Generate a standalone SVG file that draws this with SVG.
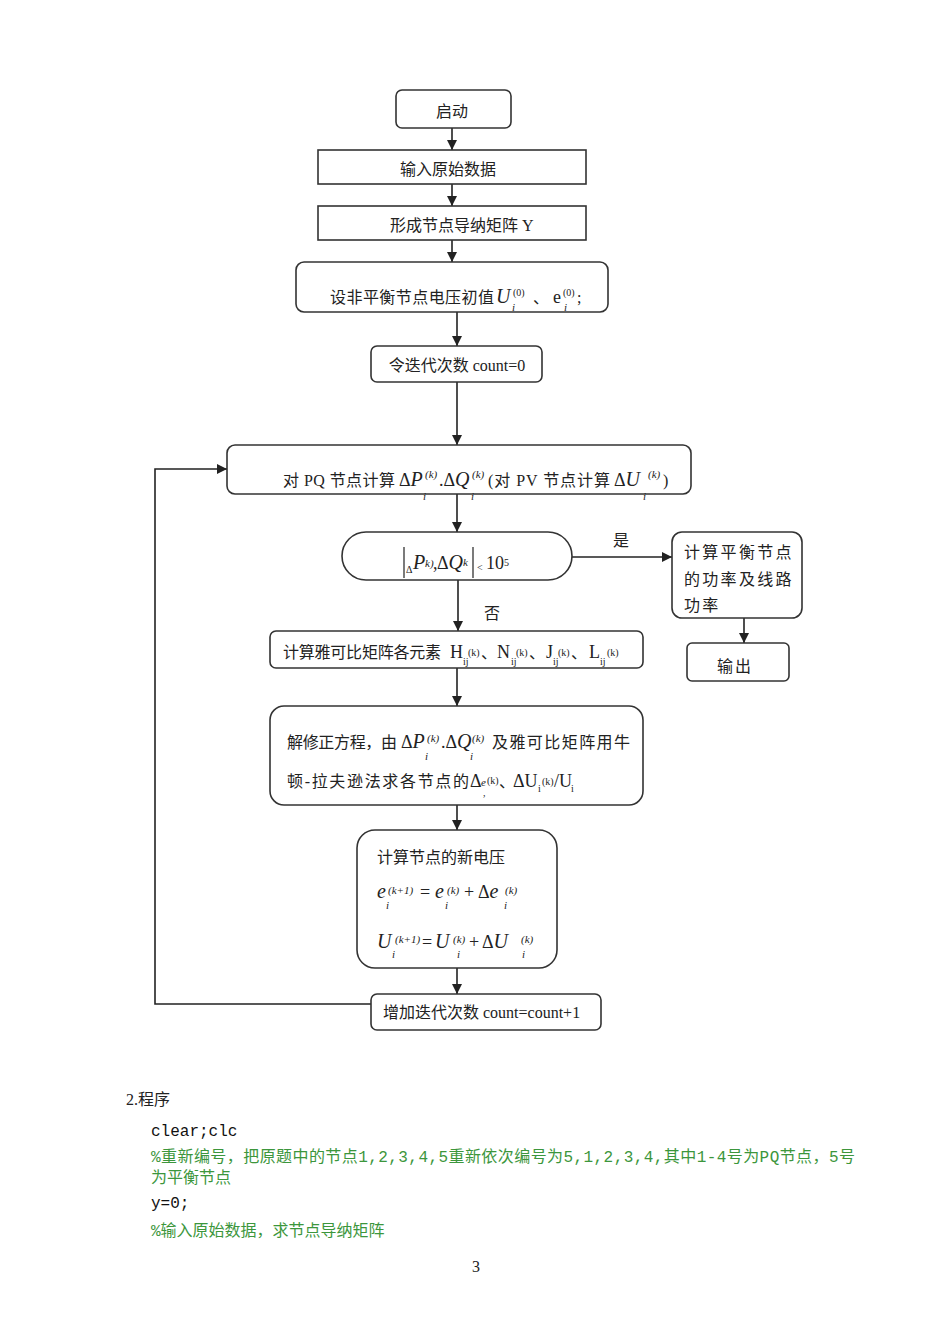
<svg xmlns="http://www.w3.org/2000/svg" width="950" height="1344" viewBox="0 0 950 1344">
<defs>
<marker id="ah" markerWidth="10" markerHeight="11" refX="10" refY="5.5" orient="auto" markerUnits="userSpaceOnUse">
<path d="M0,0.5 L10,5.5 L0,10.5 Z" fill="#222"/>
</marker>
<style>
.bx{fill:#fff;stroke:#333;stroke-width:1.6}
.ln{fill:none;stroke:#222;stroke-width:1.6}
.t{font-family:"Liberation Serif","Noto Sans CJK SC",serif;font-size:16px;fill:#222}
.m{font-family:"Liberation Serif",serif;font-style:italic;font-size:20px;fill:#222}
.r{font-family:"Liberation Serif",serif;font-size:18px;fill:#222}
.s{font-family:"Liberation Serif",serif;font-size:10px;fill:#222}
.si{font-family:"Liberation Serif",serif;font-style:italic;font-size:11px;fill:#222}
.code{font-family:"Liberation Mono","Noto Sans CJK SC",monospace;font-size:16px;fill:#111}
.cm{font-family:"Liberation Mono","Noto Sans CJK SC",monospace;font-size:16px;fill:#3c963c}
</style>
</defs>
<rect width="950" height="1344" fill="#fff"/>

<g id="connectors">
<line class="ln" x1="452" y1="128" x2="452" y2="150" marker-end="url(#ah)"/>
<line class="ln" x1="452" y1="184" x2="452" y2="206" marker-end="url(#ah)"/>
<line class="ln" x1="452" y1="240" x2="452" y2="262" marker-end="url(#ah)"/>
<line class="ln" x1="457" y1="312" x2="457" y2="346" marker-end="url(#ah)"/>
<line class="ln" x1="457" y1="382" x2="457" y2="445" marker-end="url(#ah)"/>
<line class="ln" x1="457" y1="494" x2="457" y2="532" marker-end="url(#ah)"/>
<line class="ln" x1="572" y1="557" x2="672" y2="557" marker-end="url(#ah)"/>
<line class="ln" x1="744" y1="618" x2="744" y2="643" marker-end="url(#ah)"/>
<line class="ln" x1="458" y1="580" x2="458" y2="631" marker-end="url(#ah)"/>
<line class="ln" x1="457" y1="668" x2="457" y2="706" marker-end="url(#ah)"/>
<line class="ln" x1="457" y1="805" x2="457" y2="830" marker-end="url(#ah)"/>
<line class="ln" x1="457" y1="968" x2="457" y2="994" marker-end="url(#ah)"/>
<polyline class="ln" points="371,1004 155,1004 155,469 227,469" marker-end="url(#ah)"/>
<text class="t" x="613" y="546">是</text>
<text class="t" x="484" y="619">否</text>
</g>

<g id="start">
<rect class="bx" x="396" y="90" width="115" height="38" rx="6"/>
<text class="t" x="452" y="117" text-anchor="middle">启动</text>
</g>

<g id="input">
<rect class="bx" x="318" y="150" width="268" height="34"/>
<text class="t" x="448" y="175" text-anchor="middle">输入原始数据</text>
</g>

<g id="admittance">
<rect class="bx" x="318" y="206" width="268" height="34"/>
<text class="t" x="390" y="231">形成节点导纳矩阵 Y</text>
</g>

<g id="init">
<rect class="bx" x="296" y="262" width="312" height="50" rx="8"/>
<text class="t" x="330" y="303" textLength="164" lengthAdjust="spacing">设非平衡节点电压初值</text>
<text class="m" x="496" y="303">U</text>
<text class="s" x="513" y="296">(0)</text>
<text class="si" x="512" y="311">i</text>
<text class="t" x="533" y="303">、</text>
<text class="r" x="553" y="303" font-size="17">e</text>
<text class="s" x="563" y="296">(0)</text>
<text class="si" x="564" y="311">i</text>
<text class="t" x="577" y="303">;</text>
</g>

<g id="count0">
<rect class="bx" x="371" y="346" width="171" height="36" rx="6"/>
<text class="t" x="457" y="371" text-anchor="middle">令迭代次数 count=0</text>
</g>

<g id="mismatch">
<rect class="bx" x="227" y="445" width="464" height="49" rx="8"/>
<text class="t" x="283" y="486" textLength="112" lengthAdjust="spacing">对 PQ 节点计算</text>
<text class="r" x="399" y="486">Δ<tspan class="m" font-size="19">P</tspan></text>
<text class="si" x="425" y="478">(k)</text>
<text class="si" x="423" y="500">i</text>
<text class="r" x="439" y="486">.Δ<tspan class="m" font-size="19">Q</tspan></text>
<text class="si" x="472" y="478">(k)</text>
<text class="si" x="471" y="500">i</text>
<text class="t" x="488" y="486" textLength="122" lengthAdjust="spacing">(对 PV 节点计算</text>
<text class="r" x="614" y="486">Δ<tspan class="m" font-size="19">U</tspan></text>
<text class="si" x="648" y="478">(k)</text>
<text class="si" x="643" y="500">i</text>
<text class="t" x="663" y="486">)</text>
</g>

<g id="converge">
<rect class="bx" x="342" y="532" width="230" height="48" rx="24"/>
<line x1="404" y1="547" x2="404" y2="578" stroke="#222" stroke-width="1.2"/>
<line x1="473" y1="547" x2="473" y2="578" stroke="#222" stroke-width="1.2"/>
<text class="s" x="406" y="573" font-size="11">Δ</text>
<text class="m" x="413" y="569" font-size="19">P</text>
<text class="si" x="425" y="567" font-size="9">k)</text>
<text class="r" x="433" y="569">,</text>
<text class="r" x="437" y="569" font-size="17">Δ<tspan class="m" font-size="18">Q</tspan></text>
<text class="si" x="463" y="566" font-size="7">k</text>
<text class="s" x="477" y="571" font-size="13">&lt;</text>
<text class="r" x="486" y="569" font-size="19">10</text>
<text class="s" x="504" y="566" font-size="8">5</text>
</g>

<g id="balance">
<rect class="bx" x="672" y="532" width="130" height="86" rx="10"/>
<text class="t" x="684" y="558" letter-spacing="2.3">计算平衡节点</text>
<text class="t" x="684" y="585" letter-spacing="2.3">的功率及线路</text>
<text class="t" x="684" y="611" letter-spacing="2.3">功率</text>
</g>

<g id="output">
<rect class="bx" x="687" y="643" width="102" height="38" rx="5"/>
<text class="t" x="735" y="672" text-anchor="middle" letter-spacing="2">输出</text>
</g>

<g id="jacobian">
<rect class="bx" x="270" y="631" width="373" height="37" rx="6"/>
<text class="t" x="283" y="658" textLength="158" lengthAdjust="spacing">计算雅可比矩阵各元素</text>
<text class="r" x="450" y="658" font-size="17">H</text>
<text class="s" x="463" y="665">ij</text>
<text class="s" x="468" y="656">(k)</text>
<text class="t" x="481" y="658">、</text>
<text class="r" x="497" y="658" font-size="17">N</text>
<text class="s" x="511" y="665">ij</text>
<text class="s" x="516" y="656">(k)</text>
<text class="t" x="529" y="658">、</text>
<text class="r" x="546" y="658" font-size="17">J</text>
<text class="s" x="553" y="665">ij</text>
<text class="s" x="558" y="656">(k)</text>
<text class="t" x="571" y="658">、</text>
<text class="r" x="589" y="658" font-size="17">L</text>
<text class="s" x="600" y="665">ij</text>
<text class="s" x="607" y="656">(k)</text>
</g>

<g id="solve">
<rect class="bx" x="270" y="706" width="373" height="99" rx="14"/>
<text class="t" x="287" y="748" textLength="110" lengthAdjust="spacing">解修正方程，由</text>
<text class="r" x="401" y="748">Δ<tspan class="m" font-size="19">P</tspan></text>
<text class="si" x="427" y="742">(k)</text>
<text class="si" x="425" y="760">i</text>
<text class="r" x="441" y="748">.Δ<tspan class="m" font-size="19">Q</tspan></text>
<text class="si" x="472" y="742">(k)</text>
<text class="si" x="470" y="760">i</text>
<text class="t" x="492" y="748" textLength="138" lengthAdjust="spacing">及雅可比矩阵用牛</text>
<text class="t" x="287" y="787" textLength="182" lengthAdjust="spacing">顿-拉夫逊法求各节点的</text>
<text class="r" x="470" y="787" font-size="16">Δ</text>
<text class="si" x="481" y="786" font-size="11">e</text>
<text class="s" x="487" y="784" font-size="8">(k)</text>
<text class="s" x="483" y="796" font-size="6">,</text>
<text class="t" x="499" y="787">、</text>
<text class="r" x="513" y="787" font-size="17">ΔU</text>
<text class="s" x="538" y="792">i</text>
<text class="s" x="542" y="785">(k)</text>
<text class="r" x="554" y="787" font-size="17">/U</text>
<text class="s" x="571" y="792">i</text>
</g>

<g id="newvoltage">
<rect class="bx" x="357" y="830" width="200" height="138" rx="18"/>
<text class="t" x="377" y="863">计算节点的新电压</text>
<text class="m" x="377" y="898">e</text>
<text class="si" x="388" y="894">(k+1)</text>
<text class="si" x="386" y="909">i</text>
<text class="r" x="420" y="898">=</text>
<text class="m" x="435" y="898">e</text>
<text class="si" x="447" y="894">(k)</text>
<text class="si" x="445" y="909">i</text>
<text class="r" x="464" y="898">+</text>
<text class="r" x="478" y="898">Δ<tspan class="m">e</tspan></text>
<text class="si" x="505" y="894">(k)</text>
<text class="si" x="504" y="909">i</text>
<text class="m" x="377" y="948">U</text>
<text class="si" x="395" y="943">(k+1)</text>
<text class="si" x="392" y="958">i</text>
<text class="r" x="422" y="948">=</text>
<text class="m" x="435" y="948">U</text>
<text class="si" x="453" y="943">(k)</text>
<text class="si" x="457" y="958">i</text>
<text class="r" x="469" y="948">+</text>
<text class="r" x="482" y="948">Δ<tspan class="m">U</tspan></text>
<text class="si" x="521" y="943">(k)</text>
<text class="si" x="522" y="958">i</text>
</g>

<g id="increment">
<rect class="bx" x="371" y="994" width="230" height="36" rx="6"/>
<text class="t" x="383" y="1018">增加迭代次数 count=count+1</text>
</g>

<g id="program">
<text class="t" x="126" y="1105">2.程序</text>
<text class="code" x="151" y="1136">clear;clc</text>
<text class="cm" x="151" y="1162" textLength="704" lengthAdjust="spacing">%重新编号，把原题中的节点1,2,3,4,5重新依次编号为5,1,2,3,4,其中1-4号为PQ节点，5号</text>
<text class="cm" x="151" y="1183">为平衡节点</text>
<text class="code" x="151" y="1208">y=0;</text>
<text class="cm" x="151" y="1236">%输入原始数据，求节点导纳矩阵</text>
<text class="t" x="476" y="1272" font-size="11" text-anchor="middle">3</text>
</g>
</svg>
